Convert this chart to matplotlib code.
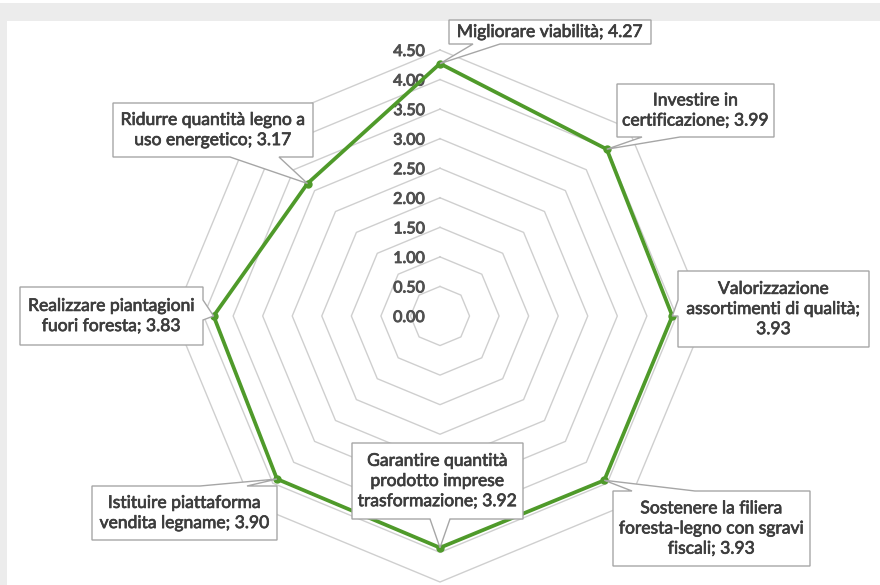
import numpy as np
import matplotlib
matplotlib.use("Agg")
import matplotlib.pyplot as plt
from matplotlib.patches import Polygon, Rectangle
import matplotlib.patheffects as pe

# Survey results: average score per measure (clockwise from the top)
categories = [
    "Migliorare viabilità",
    "Investire in\ncertificazione",
    "Valorizzazione\nassortimenti di qualità",
    "Sostenere la filiera\nforesta-legno con sgravi\nfiscali",
    "Garantire quantità\nprodotto imprese\ntrasformazione",
    "Istituire piattaforma\nvendita legname",
    "Realizzare piantagioni\nfuori foresta",
    "Ridurre quantità legno a\nuso energetico",
]
values = [4.27, 3.99, 3.93, 3.93, 3.92, 3.90, 3.83, 3.17]
value_sep = ["; ", "; ", ";\n", "; ", "; ", "; ", "; ", "; "]
ring_levels = [0.0, 0.5, 1.0, 1.5, 2.0, 2.5, 3.0, 3.5, 4.0, 4.5]

# Figure geometry (pixels)
W, H = 880, 585
CX, CY = 440, 316           # radar centre, measured from the top-left
R_MAX_PX = 266              # radius of the outer ring
R_MAX = ring_levels[-1]
S = R_MAX_PX / R_MAX        # pixels per score unit

# Callout boxes: (left, top, right, bottom) in pixels, side carrying the
# pointer and the two base positions of the pointer along that side
callouts = [
    ((449, 20, 651, 44), "bottom", (473, 500)),
    ((617, 84, 774, 137), "bottom", (642, 680)),
    ((678, 271, 869, 347), "left", (300, 316)),
    ((613, 491, 810, 566), "top", (632, 695)),
    ((352, 443, 523, 519), "bottom", (430, 450)),
    ((92, 486, 277, 540), "top", (200, 247)),
    ((20, 287, 203, 345), "right", (300, 320)),
    ((113, 103, 313, 157), "bottom", (230, 279)),
]

GREEN = "#4f9a2a"
GRID = "#cfcfcf"
TEXT = "#3d3d3d"
BORDER = "#a6a6a6"
FONT = ["Lato", "DejaVu Sans"]


def px(x, y):
    """Pixel position (from top-left) to axis units."""
    return (x - CX) / S, (CY - y) / S


fig = plt.figure(figsize=(W / 100, H / 100), dpi=100, facecolor="white")
ax = fig.add_axes([0, 0, 1, 1])
ax.patch.set_visible(False)
ax.set_xlim(-CX / S, (W - CX) / S)
ax.set_ylim(-(H - CY) / S, CY / S)
ax.set_aspect("equal")
ax.axis("off")

# Frame of the surrounding page
fig.patches.append(Rectangle((0, H - 21), W, 18, transform=None,
                             facecolor="#ececec", edgecolor="none", zorder=-5))
fig.patches.append(Rectangle((0, 0), 7, H - 3, transform=None,
                             facecolor="#ececec", edgecolor="none", zorder=-5))

n = len(categories)
theta = np.arange(n) * 2 * np.pi / n

# Octagonal grid rings
for lv in ring_levels[1:]:
    xs = lv * np.sin(np.append(theta, theta[0]))
    ys = lv * np.cos(np.append(theta, theta[0]))
    ax.plot(xs, ys, color=GRID, lw=1.0, zorder=1)

# Radial axis labels
tick_fx = [pe.withStroke(linewidth=0.7, foreground="#505050")]
for lv in ring_levels:
    ax.text(-15 / S, lv - 2 / S, f"{lv:.2f}", ha="right", va="center",
            fontsize=11.5, color="#505050", family=FONT, zorder=2,
            path_effects=tick_fx)

# Data series
vals = np.array(values)
px_x = vals * np.sin(theta)
px_y = vals * np.cos(theta)
ax.plot(np.append(px_x, px_x[0]), np.append(px_y, px_y[0]),
        color=GREEN, lw=2.7, zorder=3, solid_joinstyle="miter")
ax.plot(px_x, px_y, "o", color=GREEN, ms=5, zorder=4)

# Data callouts
label_fx = [pe.withStroke(linewidth=0.5, foreground=TEXT)]
for i, ((x0, y0, x1, y1), side, (a, b)) in enumerate(callouts):
    L, T = px(x0, y0)
    R, B = px(x1, y1)
    tip = (px_x[i], px_y[i])
    pts = [(L, T)]
    if side == "top":
        pts += [px(a, y0), tip, px(b, y0)]
    pts += [(R, T)]
    if side == "right":
        pts += [px(x1, a), tip, px(x1, b)]
    pts += [(R, B)]
    if side == "bottom":
        pts += [px(b, y1), tip, px(a, y1)]
    pts += [(L, B)]
    if side == "left":
        pts += [px(x0, b), tip, px(x0, a)]
    ax.add_patch(Polygon(pts, closed=True, facecolor="white",
                         edgecolor=BORDER, lw=1.0, zorder=5))
    label = f"{categories[i]}{value_sep[i]}{values[i]:.2f}"
    ax.text((L + R) / 2, (T + B) / 2, label, ha="center", va="center",
            multialignment="center", fontsize=12.6, color=TEXT,
            family=FONT, linespacing=1.32, zorder=6, path_effects=label_fx)

fig.savefig("out.png", dpi=100, facecolor="white")
